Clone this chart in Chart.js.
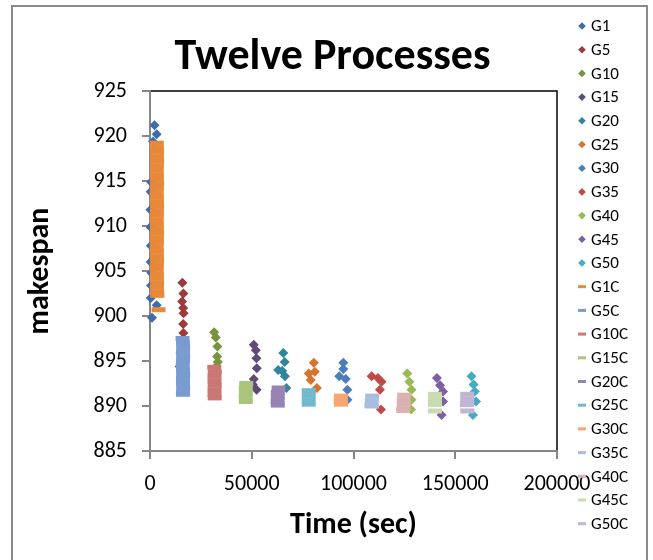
<!DOCTYPE html>
<html>
<head>
<meta charset="utf-8">
<script src="https://cdn.jsdelivr.net/npm/chart.js@4.4.0/dist/chart.umd.min.js"></script>
<style>
  html, body { margin: 0; padding: 0; background: #fff; }
  canvas { display: block; }
</style>
</head>
<body>
<canvas id="chart" width="653" height="560"></canvas>
<script>
const FONT = 'Carlito, Lato, sans-serif';

// x axis / y axis ticks
const xTicks = [0, 50000, 100000, 150000, 200000];
const yTicks = [885, 890, 895, 900, 905, 910, 915, 920, 925];

// diamond series: time (sec) and makespan
const G1_x = [2200, 3300, 1500, 500, 300, 200, 200, 400, 300, 500, 400, 600, 3300, 1000];
const G1_y = [921.2, 920.2, 919.4, 914.9, 913.8, 911.8, 909.9, 907.8, 906.0, 903.4, 902.0, 904.8, 901.2, 899.8];
const G5_x = [15900, 16400, 15800, 16300, 16500, 16300, 16400, 15200, 15000, 14600];
const G5_y = [903.7, 902.5, 901.6, 900.9, 900.3, 899.1, 898.1, 897.0, 895.9, 894.4];
const G10_x = [31500, 32300, 33100, 33000, 33300, 32600, 33000];
const G10_y = [898.2, 897.6, 896.6, 895.5, 894.9, 894.4, 893.8];
const G15_x = [51000, 52000, 52300, 52500, 51000, 52400, 50500];
const G15_y = [896.8, 896.2, 895.3, 894.2, 893.0, 891.8, 892.4];
const G20_x = [65500, 66200, 66300, 67000, 63000, 63500, 65000];
const G20_y = [895.9, 894.9, 893.3, 892.0, 894.0, 891.4, 893.9];
const G25_x = [80500, 81000, 82000, 78000, 79000];
const G25_y = [894.8, 893.8, 892.0, 893.6, 892.9];
const G30_x = [95000, 96200, 97000, 97000, 93000, 95000];
const G30_y = [894.1, 893.0, 891.8, 890.7, 893.3, 894.8];
const G35_x = [108900, 113800, 113000, 112000, 113500];
const G35_y = [893.3, 892.7, 891.8, 893.1, 889.6];
const G40_x = [126400, 127500, 128500, 128500, 128300];
const G40_y = [893.6, 892.7, 891.8, 890.7, 889.6];
const G45_x = [141000, 142500, 144000, 144000, 143300];
const G45_y = [893.1, 892.3, 891.6, 890.5, 889.0];
const G50_x = [158000, 159000, 159600, 160200, 158700];
const G50_y = [893.3, 892.4, 891.6, 890.5, 889.0];

// dash series (the dense blocks)
const G1C_x = [3300, 3400, 3500, 3400, 3500, 3400, 3300, 3400, 3400, 3500, 3400, 3300, 3400, 3400, 3500, 3400,
               3400, 3300, 3400, 3400, 3500, 3400, 3400, 3300, 3400, 3400, 3500, 3400, 3300, 3400, 3400, 3500,
               3400, 3500, 3600, 4200];
const G1C_y = [919.2, 918.7, 918.2, 917.7, 917.2, 916.7, 916.2, 915.7, 915.2, 914.7, 914.2, 913.7, 913.2, 912.7,
               912.2, 911.7, 911.2, 910.7, 910.2, 909.7, 909.2, 908.7, 908.2, 907.7, 907.2, 906.7, 906.2, 905.7,
               905.2, 904.7, 904.2, 903.7, 903.2, 902.7, 902.3, 900.7];
const G5C_x = [16000, 16200, 16300, 16200, 16300, 16200, 16100, 16200, 16300, 16200, 16200, 16300, 16200, 16200];
const G5C_y = [897.5, 897.0, 896.5, 896.0, 895.5, 895.0, 894.5, 894.0, 893.5, 893.0, 892.5, 892.0, 891.5, 891.3];
const G10C_x = [31600, 31800, 31700, 31700, 31800, 31700, 31700, 31800];
const G10C_y = [894.3, 893.8, 893.3, 892.8, 892.3, 891.8, 891.3, 890.9];
const G15C_x = [47300, 47100, 47100, 47000, 47100];
const G15C_y = [892.5, 892.0, 891.5, 891.0, 890.5];
const G20C_x = [63200, 62800, 62800, 62700, 62800];
const G20C_y = [892.0, 891.5, 891.0, 890.5, 890.1];
const G25C_x = [78000, 78000, 78000, 78000];
const G25C_y = [891.7, 891.2, 890.7, 890.2];
const G30C_x = [93800, 93800, 93800];
const G30C_y = [891.1, 890.6, 890.2];
const G35C_x = [109200, 109000, 108800, 109000];
const G35C_y = [891.1, 890.6, 890.1, 890.0];
const G40C_x = [124900, 124700, 124700, 124500, 124500];
const G40C_y = [891.2, 890.7, 890.2, 889.7, 889.5];
const G45C_x = [140000, 140000, 140000, 140000, 140000];
const G45C_y = [891.3, 890.8, 890.3, 890.15, 889.45];
const G50C_x = [155900, 155900, 155900, 155700, 155900];
const G50C_y = [891.3, 890.8, 890.3, 890.15, 889.45];

const names = ['G1', 'G5', 'G10', 'G15', 'G20', 'G25', 'G30', 'G35', 'G40', 'G45', 'G50'];
const diamondX = [G1_x, G5_x, G10_x, G15_x, G20_x, G25_x, G30_x, G35_x, G40_x, G45_x, G50_x];
const diamondY = [G1_y, G5_y, G10_y, G15_y, G20_y, G25_y, G30_y, G35_y, G40_y, G45_y, G50_y];
const dashX = [G1C_x, G5C_x, G10C_x, G15C_x, G20C_x, G25C_x, G30C_x, G35C_x, G40C_x, G45C_x, G50C_x];
const dashY = [G1C_y, G5C_y, G10C_y, G15C_y, G20C_y, G25C_y, G30C_y, G35C_y, G40C_y, G45C_y, G50C_y];

const diamondColors = ['#3F6DA9', '#9E3A38', '#77933C', '#604A7B', '#31859C', '#D8732B',
                       '#4A7EBB', '#BE4B48', '#98B954', '#7D60A0', '#46AAC5'];
const dashColors = ['#E8893A', '#7A9BCF', '#CA7775', '#AAC47C', '#9784B4', '#72B8CF',
                    '#F8A66F', '#A9BEDC', '#DAB1B0', '#CADBB2', '#C0B6D3'];

const zip = (xs, ys) => xs.map((x, i) => ({ x: x, y: ys[i] }));

const datasets = [];
names.forEach((n, i) => {
    datasets.push({
        label: n,
        data: zip(diamondX[i], diamondY[i]),
        pointStyle: 'rectRot',
        pointRadius: 5,
        pointBorderWidth: 0,
        pointBackgroundColor: diamondColors[i],
        pointBorderColor: diamondColors[i],
        clip: false,
        order: 2
    });
});
names.forEach((n, i) => {
    datasets.push({
        label: n + 'C',
        data: zip(dashX[i], dashY[i]),
        pointStyle: 'line',
        pointRadius: 7,
        pointBorderWidth: 5,
        pointBorderColor: dashColors[i],
        pointBackgroundColor: dashColors[i],
        clip: false,
        order: 1
    });
});

// black plot-area frame and grey outer frame
const framePlugin = {
    id: 'frames',
    beforeDraw(chart) {
        const { ctx, chartArea: a } = chart;
        ctx.save();
        ctx.strokeStyle = '#000';
        ctx.lineWidth = 1.5;
        ctx.strokeRect(a.left, a.top, a.right - a.left, a.bottom - a.top);
        ctx.strokeStyle = '#8a8a8a';
        ctx.lineWidth = 2;
        ctx.strokeRect(12, 6, 635, 600);
        ctx.restore();
    }
};

// legend on the right, one entry per series
const sideLegend = {
    id: 'sideLegend',
    afterDraw(chart) {
        const ctx = chart.ctx;
        ctx.save();
        ctx.font = '17px ' + FONT;
        ctx.textBaseline = 'middle';
        ctx.textAlign = 'left';
        chart.data.datasets.forEach((ds, i) => {
            const y = 26 + i * 23.7;
            if (ds.pointStyle === 'rectRot') {
                ctx.fillStyle = ds.pointBackgroundColor;
                Chart.helpers.drawPoint(ctx, { pointStyle: 'rectRot', radius: 3.8, borderWidth: 0 }, 582, y);
            } else {
                ctx.fillStyle = ds.pointBorderColor;
                ctx.fillRect(578, y - 1.5, 8, 3);
            }
            ctx.fillStyle = '#000';
            ctx.fillText(ds.label, 591, y + 1);
        });
        ctx.restore();
    }
};

new Chart(document.getElementById('chart').getContext('2d'), {
    type: 'scatter',
    data: { datasets: datasets },
    plugins: [framePlugin, sideLegend],
    options: {
        responsive: false,
        animation: false,
        events: [],
        layout: { padding: { left: 12, right: 0, top: 0, bottom: 0 } },
        plugins: {
            legend: { display: false },
            tooltip: { enabled: false },
            title: {
                display: true,
                text: 'Twelve Processes',
                color: '#000',
                font: { family: FONT, size: 44, weight: 'bold' },
                padding: { top: 32, bottom: 6.2 }
            }
        },
        scales: {
            x: {
                type: 'linear',
                min: xTicks[0],
                max: xTicks[xTicks.length - 1],
                afterBuildTicks: s => { s.ticks = xTicks.map(v => ({ value: v })); },
                afterFit: s => { s.height = 109; },
                border: { color: '#868686', width: 2 },
                grid: { drawOnChartArea: false, drawTicks: true, tickLength: 8, color: '#868686', lineWidth: 2 },
                ticks: {
                    color: '#000',
                    font: { family: FONT, size: 22 },
                    padding: 12,
                    maxRotation: 0,
                    callback: v => String(v)
                },
                title: {
                    display: true,
                    text: 'Time (sec)',
                    color: '#000',
                    font: { family: FONT, size: 30, weight: 'bold' },
                    padding: { top: 0, bottom: 17 }
                }
            },
            y: {
                type: 'linear',
                min: yTicks[0],
                max: yTicks[yTicks.length - 1],
                afterBuildTicks: s => { s.ticks = yTicks.map(v => ({ value: v })); },
                afterFit: s => { s.width = 138; },
                border: { color: '#868686', width: 2 },
                grid: { drawOnChartArea: false, drawTicks: true, tickLength: 8, color: '#868686', lineWidth: 2 },
                ticks: {
                    color: '#000',
                    font: { family: FONT, size: 22 },
                    padding: 15,
                    callback: v => String(v)
                },
                title: {
                    display: true,
                    text: 'makespan',
                    color: '#000',
                    font: { family: FONT, size: 30, weight: 'bold' },
                    padding: { top: 10, bottom: 0 }
                }
            },
            // empty axis on the right that only keeps room for the legend
            side: {
                type: 'linear',
                position: 'right',
                display: true,
                min: 0,
                max: 1,
                afterFit: s => { s.width = 96; },
                grid: { display: false, drawTicks: false },
                border: { display: false },
                ticks: { display: false }
            }
        }
    }
});
</script>
</body>
</html>
